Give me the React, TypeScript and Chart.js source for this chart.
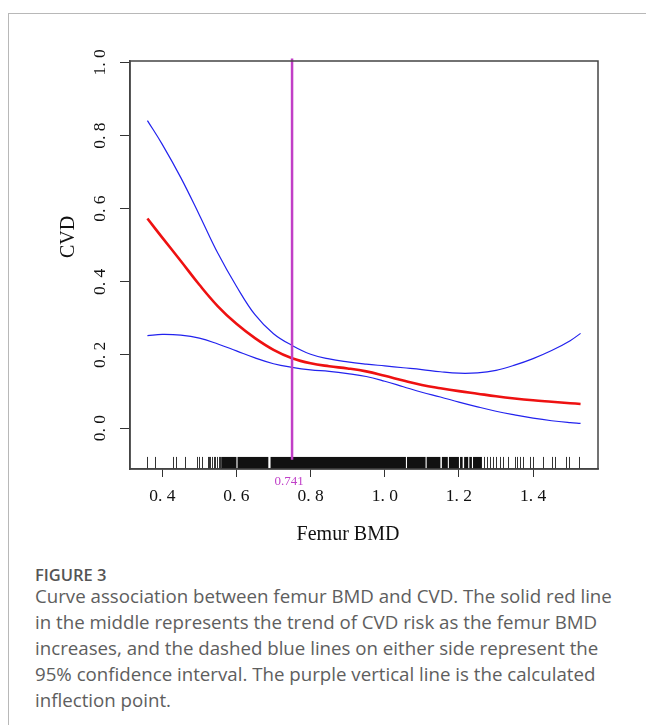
import React, { useEffect, useRef } from 'react';
import { Chart, registerables } from 'chart.js';

Chart.register(...registerables);

// ---- data ----
const curveX = [0.36, 0.40, 0.45, 0.50, 0.55, 0.60, 0.65, 0.70, 0.75, 0.80, 0.85, 0.90, 0.95, 1.00, 1.05, 1.10, 1.15, 1.20, 1.25, 1.30, 1.35, 1.40, 1.45, 1.50, 1.528];
const fitY = [0.573, 0.521, 0.457, 0.392, 0.333, 0.285, 0.246, 0.214, 0.191, 0.177, 0.169, 0.163, 0.155, 0.143, 0.130, 0.118, 0.109, 0.101, 0.094, 0.087, 0.081, 0.076, 0.072, 0.068, 0.066];
const upperY = [0.841, 0.776, 0.685, 0.583, 0.478, 0.388, 0.310, 0.258, 0.226, 0.202, 0.189, 0.181, 0.175, 0.170, 0.165, 0.160, 0.154, 0.150, 0.151, 0.158, 0.172, 0.190, 0.212, 0.239, 0.259];
const lowerY = [0.253, 0.256, 0.254, 0.246, 0.230, 0.211, 0.192, 0.176, 0.166, 0.159, 0.155, 0.149, 0.141, 0.128, 0.113, 0.098, 0.085, 0.071, 0.058, 0.046, 0.036, 0.027, 0.020, 0.015, 0.013];

const inflectionX = 0.75;
const inflectionLabel = '0.741';
const inflectionSpan = [1.011, -0.087];

const xTickValues = [0.4, 0.6, 0.8, 1.0, 1.2, 1.4];
const xTickLabels = ['0. 4', '0. 6', '0. 8', '1. 0', '1. 2', '1. 4'];
const yTickValues = [0.0, 0.2, 0.4, 0.6, 0.8, 1.0];
const yTickLabels = ['0. 0', '0. 2', '0. 4', '0. 6', '0. 8', '1. 0'];

const xTitle = 'Femur BMD';
const yTitle = 'CVD';

// rug: individual observation ticks and dense (solid) stretches
const rugTicks = [0.360, 0.380, 0.430, 0.437, 0.461, 0.494, 0.500, 0.508, 0.522, 0.526, 0.530, 0.535, 0.539, 0.543, 0.548, 0.552, 0.556,
  1.268, 1.275, 1.285, 1.292, 1.300, 1.311, 1.318, 1.333, 1.351, 1.357, 1.365, 1.372, 1.391, 1.399, 1.427, 1.450, 1.459, 1.490, 1.497, 1.524];
const rugBands = [[0.559, 0.600], [0.603, 0.686], [0.692, 1.057], [1.060, 1.110], [1.113, 1.150], [1.154, 1.170], [1.173, 1.200], [1.203, 1.210], [1.214, 1.225], [1.228, 1.235], [1.238, 1.262]];

const serif = '"Liberation Serif", "Times New Roman", serif';

const labelFor = (vals: number[], labs: string[]) => (v: any) => {
  const i = vals.findIndex((t) => Math.abs(t - Number(v)) < 1e-9);
  return i >= 0 ? labs[i] : '';
};

const extras = {
  id: 'extras',
  beforeDatasetsDraw(chart: any) {
    const { ctx, chartArea, scales } = chart;
    const xs = scales.x;
    const ys = scales.y;
    const top = ys.getPixelForValue(-0.079);
    const bottom = chartArea.bottom;
    ctx.save();
    ctx.fillStyle = '#111';
    rugBands.forEach(([a, b]) => {
      const x1 = xs.getPixelForValue(a);
      const x2 = xs.getPixelForValue(b);
      ctx.fillRect(x1, top, x2 - x1, bottom - top);
    });
    ctx.strokeStyle = '#333';
    ctx.lineWidth = 1;
    rugTicks.forEach((v) => {
      const px = Math.round(xs.getPixelForValue(v)) + 0.5;
      ctx.beginPath();
      ctx.moveTo(px, top);
      ctx.lineTo(px, bottom);
      ctx.stroke();
    });
    ctx.restore();
  },
  afterDraw(chart: any) {
    const { ctx, chartArea, scales } = chart;
    ctx.save();
    ctx.strokeStyle = '#444';
    ctx.lineWidth = 1.5;
    ctx.strokeRect(chartArea.left, chartArea.top, chartArea.right - chartArea.left, chartArea.bottom - chartArea.top);
    // inflection label
    ctx.fillStyle = '#c040c8';
    ctx.font = `13px ${serif}`;
    ctx.textAlign = 'center';
    ctx.textBaseline = 'middle';
    ctx.fillText(inflectionLabel, scales.x.getPixelForValue(inflectionX) - 3, chartArea.bottom + 13);
    // axis titles
    ctx.fillStyle = '#111';
    ctx.font = `20px ${serif}`;
    ctx.fillText(xTitle, chartArea.left + 218, chartArea.bottom + 66);
    ctx.translate(chartArea.left - 61, chartArea.top + 176);
    ctx.rotate(-Math.PI / 2);
    ctx.fillText(yTitle, 0, 0);
    ctx.restore();
  },
};

export default function App() {
  const ref = useRef<HTMLCanvasElement>(null);
  useEffect(() => {
    if (!ref.current) return;
    const chart = new Chart(ref.current, {
      type: 'scatter',
      data: {
        datasets: [
          {
            label: 'inflection',
            data: inflectionSpan.map((y) => ({ x: inflectionX, y })),
            showLine: true,
            borderColor: '#c13fc6',
            borderWidth: 2.5,
            pointRadius: 0,
            clip: false as any,
          },
          {
            label: 'fit',
            data: curveX.map((x, i) => ({ x, y: fitY[i] })),
            showLine: true,
            borderColor: '#ee1111',
            borderWidth: 2.6,
            pointRadius: 0,
            tension: 0.4,
          },
          {
            label: 'upper',
            data: curveX.map((x, i) => ({ x, y: upperY[i] })),
            showLine: true,
            borderColor: '#2222ee',
            borderWidth: 1.2,
            pointRadius: 0,
            tension: 0.4,
          },
          {
            label: 'lower',
            data: curveX.map((x, i) => ({ x, y: lowerY[i] })),
            showLine: true,
            borderColor: '#2222ee',
            borderWidth: 1.2,
            pointRadius: 0,
            tension: 0.4,
          },
        ],
      },
      options: {
        animation: false,
        responsive: false,
        devicePixelRatio: 1,
        layout: { padding: { left: 70, top: 61, right: 48, bottom: 51 } },
        plugins: { legend: { display: false }, tooltip: { enabled: false } },
        scales: {
          x: {
            type: 'linear',
            min: 0.313,
            max: 1.575,
            afterBuildTicks: (s: any) => { s.ticks = xTickValues.map((value) => ({ value })); },
            afterFit: (s: any) => { s.height = 40; },
            grid: { display: true, drawOnChartArea: false, drawTicks: true, tickLength: 8, color: '#333', lineWidth: 1 },
            border: { display: true, color: '#444', width: 1.5 },
            ticks: {
              callback: labelFor(xTickValues, xTickLabels),
              font: { family: serif, size: 17.5 },
              color: '#111',
              padding: 9,
              minRotation: 0,
              maxRotation: 0,
              autoSkip: false,
            },
          },
          y: {
            type: 'linear',
            min: -0.112,
            max: 1.004,
            afterBuildTicks: (s: any) => { s.ticks = yTickValues.map((value) => ({ value })); },
            afterFit: (s: any) => { s.width = 60; },
            grid: { display: true, drawOnChartArea: false, drawTicks: true, tickLength: 10, color: '#333', lineWidth: 1 },
            border: { display: true, color: '#444', width: 1.5 },
            ticks: {
              callback: labelFor(yTickValues, yTickLabels),
              font: { family: serif, size: 17.5 },
              color: '#111',
              padding: 6,
              minRotation: 90,
              maxRotation: 90,
              crossAlign: 'center',
              autoSkip: false,
            },
          },
        },
      },
      plugins: [extras],
    } as any);
    return () => chart.destroy();
  }, []);

  const cap: React.CSSProperties = {
    position: 'absolute',
    left: 27,
    fontFamily: '"Open Sans", sans-serif',
    color: '#5e5e5e',
    whiteSpace: 'nowrap',
  };

  return (
    <div style={{ position: 'relative', width: 630, height: 709 }}>
      <div style={{ position: 'fixed', left: 8, top: 13, right: 0, height: 1, background: '#b8b8b8' }} />
      <div style={{ position: 'fixed', left: 8, top: 13, width: 1, bottom: 0, background: '#b8b8b8' }} />
      <canvas ref={ref} width={646} height={560} style={{ position: 'absolute', left: -8, top: -8, width: 646, height: 560 }} />
      <div style={{ ...cap, top: 556, fontSize: 16.5, fontWeight: 600, lineHeight: '22px', color: '#555' }}>FIGURE 3</div>
      <div style={{ ...cap, top: 575, fontSize: 18.7, lineHeight: '26px' }}>
        Curve association between femur BMD and CVD. The solid red line<br />
        in the middle represents the trend of CVD risk as the femur BMD<br />
        increases, and the dashed blue lines on either side represent the<br />
        95% confidence interval. The purple vertical line is the calculated<br />
        inflection point.
      </div>
    </div>
  );
}
